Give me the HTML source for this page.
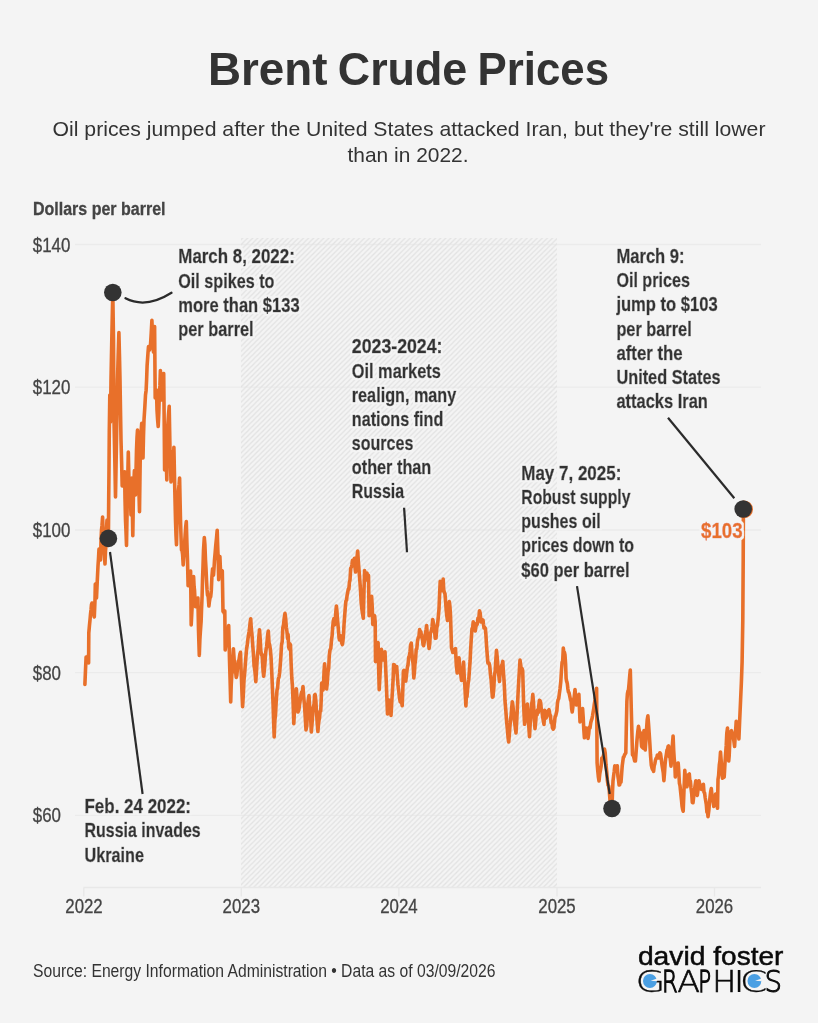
<!DOCTYPE html>
<html lang="en"><head><meta charset="utf-8"><title>Brent Crude Prices</title>
<style>html,body{margin:0;padding:0;background:#f4f4f4;}body{width:818px;height:1023px;overflow:hidden;}svg{display:block;font-family:"Liberation Sans",sans-serif;}</style>
</head><body>
<svg width="818" height="1023" viewBox="0 0 818 1023">
<defs><pattern id="hatch" x="3.1" y="0" width="5.08" height="5.08" patternUnits="userSpaceOnUse"><path d="M-1.27,1.27 L1.27,-1.27 M0,5.08 L5.08,0 M3.81,6.35 L6.35,3.81" stroke="#e2e2e2" stroke-width="1.3" fill="none"/></pattern><filter id="halo" x="-0.1" y="-0.1" width="1.2" height="1.2"><feMorphology in="SourceAlpha" operator="dilate" radius="2.4" result="d"/><feFlood flood-color="#f4f4f4" result="c"/><feComposite in="c" in2="d" operator="in" result="h"/><feMerge><feMergeNode in="h"/><feMergeNode in="SourceGraphic"/></feMerge></filter></defs>
<rect width="818" height="1023" fill="#f4f4f4"/>
<text y="84.5" font-size="45.5" font-weight="bold" fill="#333333"><tspan x="208" textLength="119.5" lengthAdjust="spacingAndGlyphs">Brent</tspan> <tspan x="337.8" textLength="129.5" lengthAdjust="spacingAndGlyphs">Crude</tspan> <tspan x="477.5" textLength="131.5" lengthAdjust="spacingAndGlyphs">Prices</tspan></text>
<text x="409" y="135.6" font-size="21" font-weight="normal" fill="#333333" text-anchor="middle" textLength="713" lengthAdjust="spacingAndGlyphs">Oil prices jumped after the United States attacked Iran, but they're still lower</text>
<text x="408" y="161.6" font-size="21" font-weight="normal" fill="#333333" text-anchor="middle" textLength="121" lengthAdjust="spacingAndGlyphs">than in 2022.</text>
<text x="33" y="214.6" font-size="18.8" font-weight="bold" fill="#444" textLength="132.5" lengthAdjust="spacingAndGlyphs" stroke="#444" stroke-width="0.3">Dollars per barrel</text>
<line x1="75" x2="761" y1="244.5" y2="244.5" stroke="#ebebeb" stroke-width="1.3"/>
<line x1="75" x2="761" y1="387.2" y2="387.2" stroke="#ebebeb" stroke-width="1.3"/>
<line x1="75" x2="761" y1="530" y2="530" stroke="#ebebeb" stroke-width="1.3"/>
<line x1="75" x2="761" y1="672.7" y2="672.7" stroke="#ebebeb" stroke-width="1.3"/>
<line x1="75" x2="761" y1="815.4" y2="815.4" stroke="#ebebeb" stroke-width="1.3"/>
<rect x="241" y="238" width="316" height="649" fill="url(#hatch)"/>
<line x1="83.5" x2="761" y1="887.5" y2="887.5" stroke="#e8e8e8" stroke-width="1.4"/>
<line x1="83.8" x2="83.8" y1="887.5" y2="896.5" stroke="#e8e8e8" stroke-width="1.4"/>
<line x1="241.3" x2="241.3" y1="887.5" y2="896.5" stroke="#e8e8e8" stroke-width="1.4"/>
<line x1="398.9" x2="398.9" y1="887.5" y2="896.5" stroke="#e8e8e8" stroke-width="1.4"/>
<line x1="557.0" x2="557.0" y1="887.5" y2="896.5" stroke="#e8e8e8" stroke-width="1.4"/>
<line x1="714.5" x2="714.5" y1="887.5" y2="896.5" stroke="#e8e8e8" stroke-width="1.4"/>
<text x="32.8" y="251.5" font-size="20" font-weight="normal" fill="#444" textLength="37.6" lengthAdjust="spacingAndGlyphs" stroke="#444" stroke-width="0.3">$140</text>
<text x="32.8" y="394.2" font-size="20" font-weight="normal" fill="#444" textLength="37.6" lengthAdjust="spacingAndGlyphs" stroke="#444" stroke-width="0.3">$120</text>
<text x="32.8" y="537.0" font-size="20" font-weight="normal" fill="#444" textLength="37.6" lengthAdjust="spacingAndGlyphs" stroke="#444" stroke-width="0.3">$100</text>
<text x="32.8" y="679.7" font-size="20" font-weight="normal" fill="#444" textLength="28.2" lengthAdjust="spacingAndGlyphs" stroke="#444" stroke-width="0.3">$80</text>
<text x="32.8" y="822.4" font-size="20" font-weight="normal" fill="#444" textLength="28.2" lengthAdjust="spacingAndGlyphs" stroke="#444" stroke-width="0.3">$60</text>
<text x="84" y="913.2" font-size="20" font-weight="normal" fill="#444" text-anchor="middle" textLength="37.4" lengthAdjust="spacingAndGlyphs" stroke="#444" stroke-width="0.3">2022</text>
<text x="241.3" y="913.2" font-size="20" font-weight="normal" fill="#444" text-anchor="middle" textLength="37.4" lengthAdjust="spacingAndGlyphs" stroke="#444" stroke-width="0.3">2023</text>
<text x="398.9" y="913.2" font-size="20" font-weight="normal" fill="#444" text-anchor="middle" textLength="37.4" lengthAdjust="spacingAndGlyphs" stroke="#444" stroke-width="0.3">2024</text>
<text x="557" y="913.2" font-size="20" font-weight="normal" fill="#444" text-anchor="middle" textLength="37.4" lengthAdjust="spacingAndGlyphs" stroke="#444" stroke-width="0.3">2025</text>
<text x="714.5" y="913.2" font-size="20" font-weight="normal" fill="#444" text-anchor="middle" textLength="37.4" lengthAdjust="spacingAndGlyphs" stroke="#444" stroke-width="0.3">2026</text>
<polyline points="84.9,684.4 85.5,670.0 86.1,657.0 86.7,657.9 87.3,660.0 87.8,658.6 88.4,655.0 88.6,663.0 88.8,633.0 89.4,626.0 90.0,620.0 90.5,614.3 91.0,610.0 91.5,604.5 92.0,603.0 92.6,606.0 93.2,612.4 93.7,614.4 94.3,617.0 95.0,600.0 95.3,584.0 95.9,593.3 96.5,598.0 97.2,582.5 98.0,566.0 98.5,558.4 99.0,549.0 99.8,554.9 100.5,560.0 101.0,541.3 101.5,530.0 102.0,525.4 102.6,517.0 103.0,529.6 103.5,540.0 104.2,553.1 105.0,564.0 105.5,550.8 106.0,545.0 106.5,528.7 107.0,520.0 107.7,527.0 108.4,538.0 108.7,500.0 109.0,470.0 109.3,430.0 109.8,395.0 110.5,422.0 111.0,380.0 111.5,354.0 112.0,330.0 112.8,292.5 113.5,340.0 114.0,420.0 114.8,459.2 115.5,497.0 116.0,468.4 116.5,440.0 117.0,411.1 117.5,380.0 118.2,354.9 118.9,332.6 119.5,357.0 120.0,380.0 120.5,410.9 121.0,440.0 121.6,461.5 122.2,486.0 122.8,485.8 123.3,478.0 123.9,476.1 124.6,471.7 125.0,498.5 125.5,520.0 126.0,531.3 126.5,545.4 127.0,516.1 127.5,490.0 128.3,452.0 128.9,477.7 129.5,505.0 130.2,492.0 131.0,515.0 131.8,478.0 132.3,506.6 132.8,535.6 133.5,490.0 133.9,481.6 134.4,470.5 134.9,483.3 135.5,495.0 136.0,471.5 136.5,450.0 137.0,437.9 137.5,430.0 138.0,448.9 138.5,470.0 139.0,493.6 139.5,511.8 140.0,474.1 140.5,440.0 141.1,432.2 141.7,423.4 142.3,441.6 143.0,458.0 143.5,435.7 144.0,420.0 144.8,407.6 145.5,395.0 146.1,390.4 146.6,380.0 147.1,365.6 147.5,360.0 148.0,352.6 148.5,346.6 149.0,348.1 149.5,350.0 150.0,345.7 150.5,345.0 151.2,333.7 151.9,320.3 152.4,332.5 152.8,345.0 153.5,352.0 154.1,336.0 154.6,326.5 155.2,398.0 155.8,395.8 156.5,390.0 157.0,410.0 157.6,419.7 158.2,426.5 158.8,412.8 159.3,395.0 159.9,385.9 160.4,370.5 160.9,386.0 161.5,400.0 162.3,380.0 163.0,377.0 163.7,373.5 164.2,422.8 164.6,470.0 165.1,446.1 165.5,428.0 166.2,455.4 166.8,480.0 167.3,451.2 167.8,425.0 168.5,414.7 169.2,406.3 170.0,450.0 170.5,463.2 171.0,482.0 171.5,464.9 172.0,452.0 172.8,472.0 173.4,458.4 173.9,447.2 174.7,486.0 175.5,520.0 176.0,535.2 176.5,544.8 177.0,522.9 177.5,510.0 178.0,496.8 178.5,490.0 179.1,484.5 179.6,478.0 180.1,502.2 180.5,520.0 181.0,536.3 181.5,550.0 182.1,550.8 182.6,554.5 183.2,565.0 183.8,555.8 184.5,545.0 185.1,535.6 185.7,526.9 186.3,521.6 186.9,543.0 187.5,560.0 188.1,585.8 188.8,585.3 189.5,580.0 190.1,575.8 190.6,571.0 191.2,625.0 191.8,613.0 192.5,600.0 193.1,589.3 193.6,576.6 194.1,586.8 194.5,590.0 195.0,599.7 195.5,606.6 196.0,604.4 196.5,600.0 197.2,600.2 197.9,598.0 198.5,630.0 199.3,655.4 199.9,639.2 200.5,630.0 201.1,621.7 201.6,607.8 202.1,596.0 202.5,580.0 203.0,566.2 203.5,550.0 204.3,537.5 204.9,544.4 205.5,560.0 206.0,568.6 206.5,580.0 207.0,589.4 207.5,595.0 208.2,596.5 208.9,606.0 209.4,601.6 210.0,598.0 210.7,596.6 211.3,590.7 211.9,576.8 212.6,568.7 213.1,575.4 213.5,575.0 214.0,568.7 214.5,560.0 215.2,552.2 215.8,545.0 216.5,538.3 217.2,530.2 217.7,546.5 218.2,560.0 218.7,579.7 219.3,568.4 219.9,556.5 220.4,568.3 221.0,575.0 221.7,571.5 222.3,571.0 223.0,611.5 223.6,610.4 224.2,613.4 224.8,610.9 225.2,650.0 225.8,645.1 226.5,640.0 227.1,634.4 227.6,634.8 228.1,632.3 228.7,625.5 229.5,660.0 230.1,680.0 230.7,701.9 231.2,685.4 231.8,675.0 232.3,665.9 232.9,657.1 233.4,648.7 233.9,656.2 234.5,665.0 235.1,672.2 235.6,671.0 236.2,677.4 236.8,675.5 237.5,668.0 238.2,661.2 239.0,660.0 239.8,654.4 240.5,652.3 241.0,667.5 241.5,680.0 242.1,695.8 242.6,706.7 243.3,695.2 244.0,680.0 244.7,672.9 245.3,664.7 245.9,656.9 246.6,648.7 247.2,645.4 247.9,639.2 248.5,635.0 249.1,631.5 249.6,628.1 250.1,622.8 250.7,618.7 251.3,628.5 252.0,635.0 252.8,646.2 253.5,655.0 254.1,666.1 254.7,669.1 255.2,674.1 255.8,681.7 256.4,672.0 256.9,663.9 257.5,655.0 258.2,648.6 258.8,637.4 259.5,629.7 260.2,639.0 260.8,650.6 261.5,655.0 262.1,654.7 262.6,663.1 263.1,671.4 263.7,676.2 264.3,670.5 264.9,663.6 265.4,655.6 266.0,650.0 266.6,646.7 267.1,641.1 267.7,634.6 268.3,631.0 269.0,642.7 269.6,644.6 270.3,649.0 271.0,656.6 271.8,673.1 272.5,690.0 273.1,705.2 273.6,721.2 274.2,737.0 274.9,720.0 275.5,715.0 276.2,701.4 277.0,690.0 277.6,688.0 278.3,678.9 279.0,677.1 279.6,673.0 280.2,665.8 280.9,656.2 281.5,645.0 282.2,641.6 282.8,627.9 283.5,625.0 284.2,618.4 285.0,613.4 285.7,618.8 286.3,627.2 287.0,632.0 287.6,638.7 288.1,634.6 288.7,647.1 289.3,649.0 289.9,643.8 290.5,645.0 291.1,663.0 291.8,678.0 292.4,685.7 293.0,700.0 293.8,723.6 294.4,712.2 295.0,700.0 295.6,697.0 296.3,688.7 296.9,696.1 297.4,704.7 298.0,712.0 298.8,710.3 299.5,705.0 300.2,700.3 301.0,695.0 301.7,692.0 302.3,692.7 303.0,686.5 303.8,698.1 304.5,705.0 305.2,716.9 306.0,730.0 306.8,726.0 307.5,710.0 308.2,700.2 309.0,695.5 309.6,705.8 310.2,712.0 310.8,721.4 311.3,732.0 311.9,725.0 312.4,718.9 313.0,710.0 313.5,706.6 314.1,703.6 314.6,694.9 315.1,694.4 315.8,699.9 316.5,712.0 317.2,723.1 317.9,731.5 318.4,724.9 319.0,720.2 319.5,718.0 320.1,711.3 320.7,711.0 321.2,699.8 321.7,683.0 322.4,688.1 323.0,690.0 323.5,684.5 324.1,670.4 324.6,663.7 325.3,672.1 325.9,678.1 326.6,689.0 327.3,682.2 328.0,672.0 328.7,668.2 329.3,655.4 330.0,650.0 330.8,648.4 331.5,640.0 332.1,635.8 332.7,626.9 333.3,621.0 333.9,618.7 334.5,625.0 335.1,621.8 335.8,612.1 336.4,606.0 336.9,611.0 337.5,619.5 338.0,625.0 338.5,630.9 339.1,638.3 339.6,640.0 340.3,635.8 341.0,636.0 341.7,642.8 342.4,644.6 342.9,641.3 343.5,634.7 344.0,625.0 344.6,616.6 345.3,607.4 345.9,601.0 346.5,600.2 347.1,595.3 347.7,592.3 348.3,589.0 348.9,589.1 349.4,582.4 350.0,580.0 350.7,568.4 351.4,567.0 351.9,564.8 352.5,560.3 353.0,563.0 353.7,562.5 354.4,558.3 354.9,565.8 355.5,572.0 356.0,565.7 356.5,562.0 357.1,556.5 357.7,551.0 358.4,562.3 359.0,570.0 359.8,580.2 360.5,590.0 361.2,602.9 362.0,610.0 362.6,614.0 363.3,618.2 364.0,590.0 364.6,570.6 365.3,577.6 366.0,580.0 366.5,579.8 367.0,573.0 367.8,577.8 368.5,575.5 369.1,615.8 369.8,608.9 370.5,605.0 371.1,602.5 371.6,596.2 372.2,606.2 372.8,624.4 373.4,618.8 374.0,618.0 374.6,615.7 375.2,622.0 375.5,661.6 376.2,658.2 377.0,650.0 377.6,643.6 378.1,642.6 378.6,666.1 379.2,689.7 379.9,676.9 380.5,665.0 381.4,649.3 381.9,652.8 382.5,655.1 383.0,660.0 383.7,657.8 384.3,658.5 385.0,651.8 385.6,666.0 386.2,680.0 386.9,698.2 387.5,714.0 388.2,709.2 389.0,700.0 389.7,704.7 390.3,707.5 391.0,715.4 391.8,701.5 392.5,690.0 393.1,679.7 393.6,664.6 394.3,664.7 395.0,672.0 395.6,668.9 396.1,670.5 396.7,666.5 397.4,677.5 398.0,685.0 398.8,691.5 399.5,698.0 400.2,701.7 400.9,702.2 401.5,701.1 402.2,705.6 402.8,690.0 403.4,671.3 404.0,670.3 404.6,674.7 405.2,680.6 405.8,681.0 406.4,675.8 406.9,671.0 407.4,667.3 408.0,665.0 408.7,657.3 409.3,656.1 410.0,652.0 410.6,645.0 411.3,643.2 411.9,652.4 412.5,660.0 413.1,663.8 413.8,678.0 414.4,672.7 414.9,664.6 415.5,660.0 416.2,649.3 416.8,648.8 417.5,640.8 418.2,637.8 419.0,636.0 419.6,629.6 420.2,631.1 420.8,631.6 421.4,635.4 422.0,638.0 422.5,639.6 423.1,644.8 423.6,645.7 424.3,642.0 425.0,635.0 425.5,633.3 426.1,629.4 426.6,625.5 427.3,634.7 428.0,638.0 428.6,644.7 429.1,648.5 429.7,644.0 430.4,632.9 431.0,632.0 431.6,629.8 432.1,626.5 432.7,619.5 433.3,622.3 433.9,625.5 434.5,630.0 435.2,638.3 436.0,638.0 436.8,627.6 437.5,625.0 438.2,618.0 439.0,609.0 439.8,590.0 440.2,581.4 440.9,591.0 441.5,590.0 442.1,584.3 442.6,584.2 443.2,579.0 443.7,589.7 444.2,592.0 445.0,594.0 445.6,601.7 446.2,610.0 446.9,616.5 447.5,620.5 448.0,617.2 448.5,610.0 449.3,601.6 449.9,606.3 450.5,615.0 451.0,631.3 451.5,648.0 452.2,650.0 452.8,652.5 453.5,652.0 454.2,650.8 454.8,649.3 455.5,648.6 456.3,665.0 457.2,673.0 457.8,665.7 458.4,662.1 459.0,657.8 459.8,666.9 460.5,672.0 461.0,676.4 461.5,680.4 462.0,673.9 462.6,669.3 463.1,672.5 463.6,662.0 464.2,676.0 464.8,685.0 465.4,696.9 465.9,706.0 466.4,695.0 467.0,696.7 467.5,690.0 468.1,683.8 468.8,679.2 469.5,669.2 470.1,661.0 470.6,650.4 471.2,640.0 472.0,628.5 472.6,628.4 473.2,621.8 473.8,627.1 474.4,623.6 474.9,628.0 475.3,631.0 475.9,626.5 476.5,625.0 477.2,624.4 478.0,618.0 478.8,618.3 479.5,610.7 480.2,613.3 481.0,622.0 481.7,619.9 482.3,621.3 483.0,620.0 483.5,624.4 484.0,628.0 484.7,627.4 485.4,628.5 485.9,634.6 486.5,645.0 487.3,656.0 487.9,663.0 488.4,662.9 489.0,663.0 489.8,666.4 490.5,675.0 491.1,679.5 491.8,690.0 492.4,697.1 493.0,696.8 493.8,688.1 494.5,675.0 495.2,670.8 495.8,660.4 496.5,650.4 497.2,657.3 498.0,668.0 498.8,675.3 499.5,681.5 500.2,671.0 501.0,670.0 501.6,665.5 502.2,664.1 502.8,661.4 503.4,671.9 504.0,680.0 504.5,688.9 505.0,701.0 505.8,710.2 506.5,720.0 507.1,726.5 507.6,731.8 508.1,737.9 508.7,742.0 509.3,735.1 509.9,726.6 510.5,720.0 511.1,715.6 511.7,707.9 512.3,701.7 512.9,705.3 513.4,711.2 514.0,718.0 514.7,723.0 515.3,727.8 516.0,733.0 516.8,719.3 517.5,705.0 518.1,692.5 518.8,680.0 519.4,670.4 520.0,660.0 520.8,665.7 521.5,672.0 522.1,668.5 522.7,670.5 523.5,700.0 524.0,713.1 524.6,724.3 525.3,720.5 526.0,712.0 526.6,709.0 527.3,704.0 527.9,711.6 528.5,720.0 529.0,729.3 529.5,736.6 530.2,723.7 531.0,715.0 531.6,704.0 532.2,701.4 532.8,694.4 533.4,701.2 534.0,712.0 534.5,721.9 535.0,728.6 535.7,721.7 536.3,713.8 537.0,715.0 537.6,709.8 538.2,712.7 538.8,705.5 539.4,700.4 540.0,700.5 540.7,702.7 541.3,709.3 542.0,712.0 542.7,717.2 543.3,720.7 544.0,724.4 544.7,710.3 545.4,717.4 546.0,718.0 546.8,716.6 547.5,712.0 548.2,710.8 549.0,709.7 549.8,714.2 550.5,716.0 551.1,722.6 551.8,722.0 552.5,727.7 553.2,729.2 553.9,727.9 554.5,722.0 555.1,716.7 555.7,715.9 556.3,713.3 556.9,710.5 557.4,703.8 558.0,700.0 558.7,698.7 559.3,694.0 560.0,689.0 560.8,681.5 561.5,670.0 562.1,662.2 562.7,660.9 563.3,648.0 563.9,653.1 564.4,652.2 565.0,655.0 565.6,664.1 566.1,678.4 566.7,681.6 567.3,683.6 567.9,689.0 568.4,692.0 569.0,692.6 569.8,696.3 570.5,700.0 571.1,701.4 571.6,708.4 572.2,712.0 572.9,706.8 573.5,700.0 574.2,697.2 575.0,689.5 575.8,699.0 576.5,705.0 577.0,702.6 577.5,700.0 578.2,699.1 578.9,694.4 579.5,709.4 580.0,722.0 580.6,719.0 581.3,715.0 582.0,711.9 582.6,708.5 583.2,717.7 583.8,729.5 584.4,737.8 584.9,732.2 585.5,729.9 586.0,728.0 586.7,731.5 587.3,731.7 588.0,738.4 588.7,734.0 589.3,727.0 590.0,728.0 590.8,722.5 591.5,720.0 592.0,718.7 592.5,716.1 593.1,712.2 593.6,709.7 594.3,704.3 595.0,700.0 595.5,693.0 596.1,696.2 596.6,688.3 597.1,762.8 597.7,770.0 598.4,777.3 599.0,781.0 599.8,773.6 600.5,770.0 601.2,765.6 601.8,758.0 602.5,758.0 603.2,756.7 603.8,754.1 604.5,749.0 605.2,752.8 606.0,765.0 606.7,771.6 607.3,779.7 608.0,785.0 608.7,786.1 609.3,791.0 610.0,800.0 610.7,800.5 611.3,804.3 612.0,808.5 612.5,791.7 613.0,781.0 613.6,776.0 614.2,771.4 614.8,765.8 615.4,769.3 616.0,770.0 616.6,769.4 617.3,765.8 617.9,776.2 618.5,780.0 619.1,785.0 619.7,784.8 620.4,780.5 621.0,782.0 621.6,774.1 622.2,766.1 622.8,761.6 623.4,757.0 623.9,757.0 624.5,755.0 625.1,754.0 625.8,753.0 626.3,728.1 626.9,701.0 627.4,693.8 628.0,690.9 628.5,690.0 629.1,683.3 629.7,676.2 630.3,670.0 630.8,689.3 631.3,710.0 631.9,732.4 632.5,755.0 633.2,754.8 634.0,758.0 634.7,761.0 635.4,761.0 635.9,754.8 636.5,746.8 637.0,740.0 637.8,731.6 638.5,726.2 639.2,730.2 640.0,735.0 640.5,732.8 641.1,740.4 641.6,746.4 642.3,747.3 643.0,748.0 643.5,735.9 644.0,730.5 644.6,740.7 645.2,750.0 645.9,740.3 646.5,730.0 647.2,719.9 647.9,715.8 648.6,724.8 649.3,735.0 649.9,744.3 650.5,755.0 651.3,765.0 651.9,767.6 652.5,769.5 653.0,769.6 653.6,771.3 654.2,765.7 654.9,763.4 655.5,760.0 656.1,758.2 656.7,758.3 657.3,755.0 657.9,756.6 658.4,755.4 659.0,758.0 659.8,752.8 660.5,753.6 661.2,758.5 662.0,765.0 662.6,768.6 663.3,773.0 663.9,780.6 664.5,773.1 665.0,765.1 665.6,759.0 666.3,754.7 667.0,750.0 667.5,749.8 668.1,746.4 668.6,746.0 669.3,756.6 670.0,757.0 670.5,760.9 671.0,766.2 671.5,760.5 672.0,750.0 672.5,743.3 673.1,736.0 673.7,750.5 674.3,760.0 674.8,763.3 675.3,777.0 676.0,770.8 676.8,768.0 677.5,766.0 678.2,763.0 678.8,771.9 679.4,783.2 680.0,785.6 680.8,793.5 681.5,800.0 682.1,806.5 682.6,809.2 683.2,811.2 684.0,790.0 684.8,770.3 685.3,776.5 685.8,779.7 686.4,782.3 686.9,786.8 687.5,784.5 688.0,780.0 688.6,774.6 689.3,774.0 689.9,781.3 690.4,781.1 691.0,788.0 691.7,793.4 692.3,802.5 693.0,802.7 693.8,795.9 694.5,790.0 695.1,785.4 695.8,780.7 696.5,790.6 697.3,795.4 697.9,790.6 698.4,783.8 699.0,780.7 699.7,784.0 700.3,787.5 701.0,789.0 701.6,789.4 702.2,785.0 702.8,789.4 703.4,784.4 704.0,792.3 704.6,793.0 705.2,797.8 705.8,801.5 706.3,804.4 706.9,812.2 707.5,811.3 708.0,816.7 708.8,810.8 709.5,802.0 710.1,796.5 710.7,791.5 711.3,788.6 711.9,794.6 712.5,800.4 713.2,801.9 713.8,806.4 714.4,800.8 715.0,799.9 715.6,794.0 716.2,798.6 716.9,804.2 717.5,808.2 718.0,779.5 718.6,775.6 719.3,765.0 719.9,761.0 720.5,752.0 721.2,760.9 722.0,772.0 722.5,778.3 723.1,774.5 723.7,777.5 724.2,777.0 724.9,764.6 725.5,755.0 726.2,745.9 726.8,733.2 727.5,728.0 728.1,748.4 728.7,761.0 729.2,755.5 729.8,741.3 730.3,735.5 730.9,731.6 731.5,730.7 732.1,736.2 732.7,733.0 733.3,736.5 734.0,741.9 734.6,746.5 735.1,737.4 735.7,729.5 736.2,721.4 736.9,723.4 737.5,730.3 738.2,731.4 738.9,739.0 739.6,722.0 740.6,700.0 741.4,682.0 742.1,662.0 742.8,620.0 743.2,560.0 743.4,509.0" fill="none" stroke="#e8702a" stroke-width="3.6" stroke-linejoin="round" stroke-linecap="round"/>
<path d="M125.5,298.3 Q146,309 171.5,292.8" fill="none" stroke="#2b2b2b" stroke-width="2.3" stroke-linecap="round"/>
<line x1="110" y1="552" x2="142.6" y2="794" stroke="#2b2b2b" stroke-width="2.2"/>
<line x1="404.1" y1="507.8" x2="407" y2="552.3" stroke="#2b2b2b" stroke-width="2.2"/>
<line x1="577" y1="586.2" x2="609.7" y2="794" stroke="#2b2b2b" stroke-width="2.2"/>
<line x1="668" y1="417.8" x2="734.3" y2="498.3" stroke="#2b2b2b" stroke-width="2.2"/>
<circle cx="744.2" cy="509.3" r="8.8" fill="#e8702a"/>
<circle cx="112.8" cy="292.5" r="8.8" fill="#333333"/>
<circle cx="108.4" cy="538.4" r="8.8" fill="#333333"/>
<circle cx="612" cy="808.5" r="8.8" fill="#333333"/>
<circle cx="743.2" cy="509" r="8.8" fill="#333333"/>
<g filter="url(#halo)">
<text x="178.3" y="263.4" font-size="19.3" font-weight="bold" fill="#333333" textLength="116.5" lengthAdjust="spacingAndGlyphs" stroke="#333333" stroke-width="0.5">March 8, 2022:</text>
<text x="178.3" y="287.54999999999995" font-size="19.3" font-weight="bold" fill="#333333" textLength="96.1" lengthAdjust="spacingAndGlyphs" stroke="#333333" stroke-width="0.5">Oil spikes to</text>
<text x="178.3" y="311.7" font-size="19.3" font-weight="bold" fill="#333333" textLength="121.3" lengthAdjust="spacingAndGlyphs" stroke="#333333" stroke-width="0.5">more than $133</text>
<text x="178.3" y="335.84999999999997" font-size="19.3" font-weight="bold" fill="#333333" textLength="75.3" lengthAdjust="spacingAndGlyphs" stroke="#333333" stroke-width="0.5">per barrel</text>
</g>
<g filter="url(#halo)">
<text x="351.8" y="353.4" font-size="19.3" font-weight="bold" fill="#333333" textLength="90.7" lengthAdjust="spacingAndGlyphs" stroke="#333333" stroke-width="0.5">2023-2024:</text>
<text x="351.8" y="377.54999999999995" font-size="19.3" font-weight="bold" fill="#333333" textLength="89.0" lengthAdjust="spacingAndGlyphs" stroke="#333333" stroke-width="0.5">Oil markets</text>
<text x="351.8" y="401.7" font-size="19.3" font-weight="bold" fill="#333333" textLength="104.5" lengthAdjust="spacingAndGlyphs" stroke="#333333" stroke-width="0.5">realign, many</text>
<text x="351.8" y="425.84999999999997" font-size="19.3" font-weight="bold" fill="#333333" textLength="91.5" lengthAdjust="spacingAndGlyphs" stroke="#333333" stroke-width="0.5">nations find</text>
<text x="351.8" y="450.0" font-size="19.3" font-weight="bold" fill="#333333" textLength="61.5" lengthAdjust="spacingAndGlyphs" stroke="#333333" stroke-width="0.5">sources</text>
<text x="351.8" y="474.15" font-size="19.3" font-weight="bold" fill="#333333" textLength="79.5" lengthAdjust="spacingAndGlyphs" stroke="#333333" stroke-width="0.5">other than</text>
<text x="351.8" y="498.29999999999995" font-size="19.3" font-weight="bold" fill="#333333" textLength="52.4" lengthAdjust="spacingAndGlyphs" stroke="#333333" stroke-width="0.5">Russia</text>
</g>
<g filter="url(#halo)">
<text x="521.3" y="480.0" font-size="19.3" font-weight="bold" fill="#333333" textLength="100.0" lengthAdjust="spacingAndGlyphs" stroke="#333333" stroke-width="0.5">May 7, 2025:</text>
<text x="521.3" y="504.15" font-size="19.3" font-weight="bold" fill="#333333" textLength="109.1" lengthAdjust="spacingAndGlyphs" stroke="#333333" stroke-width="0.5">Robust supply</text>
<text x="521.3" y="528.3" font-size="19.3" font-weight="bold" fill="#333333" textLength="79.3" lengthAdjust="spacingAndGlyphs" stroke="#333333" stroke-width="0.5">pushes oil</text>
<text x="521.3" y="552.45" font-size="19.3" font-weight="bold" fill="#333333" textLength="112.7" lengthAdjust="spacingAndGlyphs" stroke="#333333" stroke-width="0.5">prices down to</text>
<text x="521.3" y="576.6" font-size="19.3" font-weight="bold" fill="#333333" textLength="108.3" lengthAdjust="spacingAndGlyphs" stroke="#333333" stroke-width="0.5">$60 per barrel</text>
</g>
<g filter="url(#halo)">
<text x="616.4" y="263.09999999999997" font-size="19.3" font-weight="bold" fill="#333333" textLength="68.2" lengthAdjust="spacingAndGlyphs" stroke="#333333" stroke-width="0.5">March 9:</text>
<text x="616.4" y="287.24999999999994" font-size="19.3" font-weight="bold" fill="#333333" textLength="73.5" lengthAdjust="spacingAndGlyphs" stroke="#333333" stroke-width="0.5">Oil prices</text>
<text x="616.4" y="311.4" font-size="19.3" font-weight="bold" fill="#333333" textLength="101.3" lengthAdjust="spacingAndGlyphs" stroke="#333333" stroke-width="0.5">jump to $103</text>
<text x="616.4" y="335.54999999999995" font-size="19.3" font-weight="bold" fill="#333333" textLength="75.3" lengthAdjust="spacingAndGlyphs" stroke="#333333" stroke-width="0.5">per barrel</text>
<text x="616.4" y="359.69999999999993" font-size="19.3" font-weight="bold" fill="#333333" textLength="66.3" lengthAdjust="spacingAndGlyphs" stroke="#333333" stroke-width="0.5">after the</text>
<text x="616.4" y="383.84999999999997" font-size="19.3" font-weight="bold" fill="#333333" textLength="104.2" lengthAdjust="spacingAndGlyphs" stroke="#333333" stroke-width="0.5">United States</text>
<text x="616.4" y="407.99999999999994" font-size="19.3" font-weight="bold" fill="#333333" textLength="91.5" lengthAdjust="spacingAndGlyphs" stroke="#333333" stroke-width="0.5">attacks Iran</text>
</g>
<g filter="url(#halo)">
<text x="84.5" y="813.1999999999999" font-size="19.3" font-weight="bold" fill="#333333" textLength="106.5" lengthAdjust="spacingAndGlyphs" stroke="#333333" stroke-width="0.5">Feb. 24 2022:</text>
<text x="84.5" y="837.3499999999999" font-size="19.3" font-weight="bold" fill="#333333" textLength="116.2" lengthAdjust="spacingAndGlyphs" stroke="#333333" stroke-width="0.5">Russia invades</text>
<text x="84.5" y="861.4999999999999" font-size="19.3" font-weight="bold" fill="#333333" textLength="59.5" lengthAdjust="spacingAndGlyphs" stroke="#333333" stroke-width="0.5">Ukraine</text>
</g>
<g filter="url(#halo)"><text x="701.0" y="537.6" font-size="22" font-weight="bold" fill="#e8702a" textLength="41.6" lengthAdjust="spacingAndGlyphs" stroke="#e8702a" stroke-width="0.5">$103</text></g>
<text x="33" y="976.5" font-size="17.5" font-weight="normal" fill="#333333" textLength="462.5" lengthAdjust="spacingAndGlyphs">Source: Energy Information Administration • Data as of 03/09/2026</text>
<text aria-label="GRAPHICS" y="991.6" font-family="DejaVu Sans, sans-serif" font-weight="200" font-size="29.4" fill="#0a0a0a" stroke="#0a0a0a"><tspan x="635.43" textLength="29.90" lengthAdjust="spacingAndGlyphs" stroke-width="0.30">G</tspan><tspan x="662.07" textLength="15.65" lengthAdjust="spacingAndGlyphs" stroke-width="1.35">R</tspan><tspan x="677.34" textLength="22.76" lengthAdjust="spacingAndGlyphs" stroke-width="0.59">A</tspan><tspan x="698.20" textLength="12.81" lengthAdjust="spacingAndGlyphs" stroke-width="1.35">P</tspan><tspan x="712.17" textLength="24.02" lengthAdjust="spacingAndGlyphs" stroke-width="0.68">H</tspan><tspan x="731.93" textLength="14.28" lengthAdjust="spacingAndGlyphs" stroke-width="0.05">I</tspan><tspan x="739.71" textLength="27.73" lengthAdjust="spacingAndGlyphs" stroke-width="0.25">C</tspan><tspan x="764.60" textLength="17.50" lengthAdjust="spacingAndGlyphs" stroke-width="1.03">S</tspan></text>
<circle cx="649.9" cy="981" r="6.9" fill="#4a9fe3"/>
<path d="M650.6,980.7 L657.1999999999999,978.5 L657.1999999999999,981.3 Z" fill="#f4f4f4"/>
<circle cx="754.4" cy="981" r="6.9" fill="#4a9fe3"/>
<path d="M755.1,980.7 L761.6999999999999,978.5 L761.6999999999999,981.3 Z" fill="#f4f4f4"/>
<text x="637.9" y="964.5" font-size="26.5" font-weight="normal" fill="#0a0a0a" textLength="67.5" lengthAdjust="spacingAndGlyphs" stroke="#0a0a0a" stroke-width="0.5">david</text>
<text x="713.3" y="964.5" font-size="26.5" font-weight="normal" fill="#0a0a0a" textLength="70" lengthAdjust="spacingAndGlyphs" stroke="#0a0a0a" stroke-width="0.5">foster</text>
</svg></body></html>
